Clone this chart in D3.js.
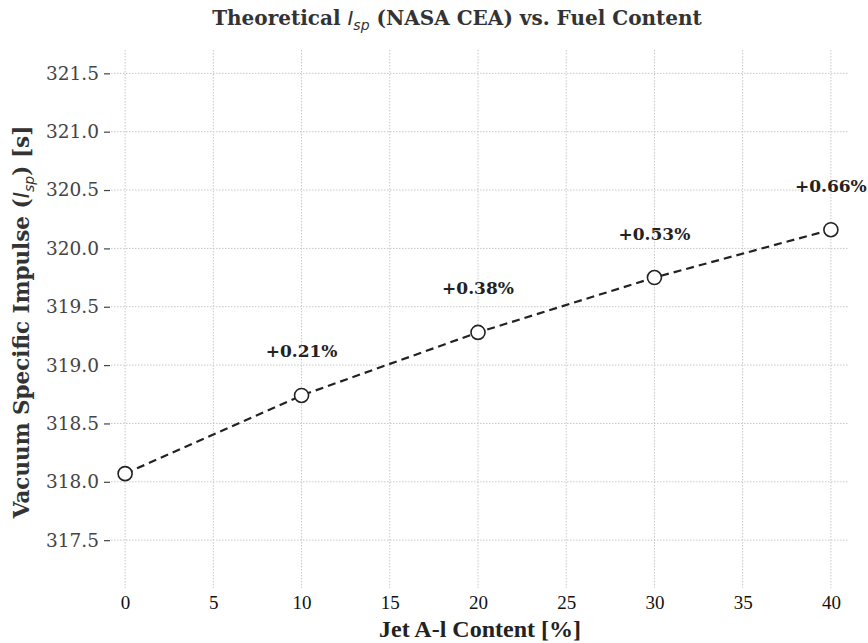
<!DOCTYPE html>
<html>
<head>
<meta charset="utf-8">
<script src="https://cdn.jsdelivr.net/npm/d3@7"></script>
<style>
  body { margin: 0; background: #fff; }
  svg { display: block; }
</style>
</head>
<body>
<div id="chart"></div>
<script>
// data
const fuelContent = [0, 10, 20, 30, 40];
const ispValues = [318.07, 318.74, 319.28, 319.75, 320.16];
const gainLabels = ["", "+0.21%", "+0.38%", "+0.53%", "+0.66%"];
const xTicks = [0, 5, 10, 15, 20, 25, 30, 35, 40];
const yTicks = [317.5, 318.0, 318.5, 319.0, 319.5, 320.0, 320.5, 321.0, 321.5];

const width = 868, height = 643;
const margin = { top: 50, right: 20, bottom: 55, left: 111 };

const svg = d3.select("#chart").append("svg")
  .attr("width", width)
  .attr("height", height);

const x = d3.scaleLinear()
  .domain([-0.8, 40.97])
  .range([margin.left, width - margin.right]);

const y = d3.scaleLinear()
  .domain([317.09, 321.7])
  .range([height - margin.bottom, margin.top]);

// grid
const grid = svg.append("g")
  .attr("stroke", "#c8c8c8")
  .attr("stroke-width", 1)
  .attr("stroke-dasharray", "1.5,1.5");

grid.selectAll(".vgrid")
  .data(xTicks)
  .join("line")
  .attr("x1", d => x(d)).attr("x2", d => x(d))
  .attr("y1", margin.top).attr("y2", height - margin.bottom);

grid.selectAll(".hgrid")
  .data(yTicks)
  .join("line")
  .attr("x1", margin.left).attr("x2", width - margin.right)
  .attr("y1", d => y(d)).attr("y2", d => y(d));

// y axis
const yAxis = svg.append("g")
  .attr("transform", `translate(${margin.left - 1},0)`)
  .call(d3.axisLeft(y).tickValues(yTicks).tickFormat(d3.format(".1f")).tickSize(6).tickPadding(5));
yAxis.select(".domain").remove();
yAxis.selectAll(".tick line").attr("stroke", "#444").attr("stroke-width", 1.2);
yAxis.selectAll("text")
  .attr("fill", "#444")
  .style("font-family", "'DejaVu Serif'")
  .style("font-size", "18.5px");

// x axis
const xAxis = svg.append("g")
  .attr("transform", `translate(0,${height - margin.bottom})`)
  .call(d3.axisBottom(x).tickValues(xTicks).tickSize(0).tickPadding(8));
xAxis.select(".domain").remove();
xAxis.selectAll("text")
  .attr("fill", "#111")
  .style("font-family", "'Liberation Serif'")
  .style("font-size", "19px");

// line
const line = d3.line()
  .x((d, i) => x(fuelContent[i]))
  .y(d => y(d));

svg.append("path")
  .datum(ispValues)
  .attr("d", line)
  .attr("fill", "none")
  .attr("stroke", "#222")
  .attr("stroke-width", 2.2)
  .attr("stroke-dasharray", "8,5");

// markers
svg.selectAll(".pt")
  .data(ispValues)
  .join("circle")
  .attr("cx", (d, i) => x(fuelContent[i]))
  .attr("cy", d => y(d))
  .attr("r", 7)
  .attr("fill", "#fff")
  .attr("stroke", "#222")
  .attr("stroke-width", 1.6);

// gain labels
svg.selectAll(".gain")
  .data(ispValues)
  .join("text")
  .attr("x", (d, i) => x(fuelContent[i]))
  .attr("y", d => y(d) - 38)
  .attr("text-anchor", "middle")
  .style("font-family", "'DejaVu Serif'")
  .style("font-weight", "bold")
  .style("font-size", "17px")
  .attr("fill", "#222")
  .text((d, i) => gainLabels[i]);

// title
const title = svg.append("text")
  .attr("x", 457)
  .attr("y", 25)
  .attr("text-anchor", "middle")
  .style("font-family", "'DejaVu Serif'")
  .style("font-weight", "bold")
  .style("font-size", "20px")
  .attr("fill", "#333");
title.append("tspan").text("Theoretical ");
title.append("tspan")
  .style("font-family", "'DejaVu Sans'")
  .style("font-style", "italic")
  .style("font-weight", "normal")
  .text("I");
title.append("tspan")
  .attr("dy", 5)
  .style("font-family", "'DejaVu Sans'")
  .style("font-style", "italic")
  .style("font-weight", "normal")
  .style("font-size", "14px")
  .text("sp");
title.append("tspan").attr("dy", -5).text(" (NASA CEA) vs. Fuel Content");

// x label
svg.append("text")
  .attr("x", 480)
  .attr("y", 637)
  .attr("text-anchor", "middle")
  .style("font-family", "'Liberation Serif'")
  .style("font-weight", "bold")
  .style("font-size", "24px")
  .attr("fill", "#222")
  .text("Jet A-l Content [%]");

// y label
const ylab = svg.append("text")
  .attr("transform", `translate(29,322) rotate(-90)`)
  .attr("text-anchor", "middle")
  .style("font-family", "'DejaVu Serif'")
  .style("font-weight", "bold")
  .style("font-size", "21.5px")
  .attr("fill", "#333");
ylab.append("tspan").text("Vacuum Specific Impulse (");
ylab.append("tspan")
  .style("font-family", "'DejaVu Sans'")
  .style("font-style", "italic")
  .style("font-weight", "normal")
  .text("I");
ylab.append("tspan")
  .attr("dy", 5)
  .style("font-family", "'DejaVu Sans'")
  .style("font-style", "italic")
  .style("font-weight", "normal")
  .style("font-size", "14px")
  .text("sp");
ylab.append("tspan").attr("dy", -5).text(") [s]");
</script>
</body>
</html>
